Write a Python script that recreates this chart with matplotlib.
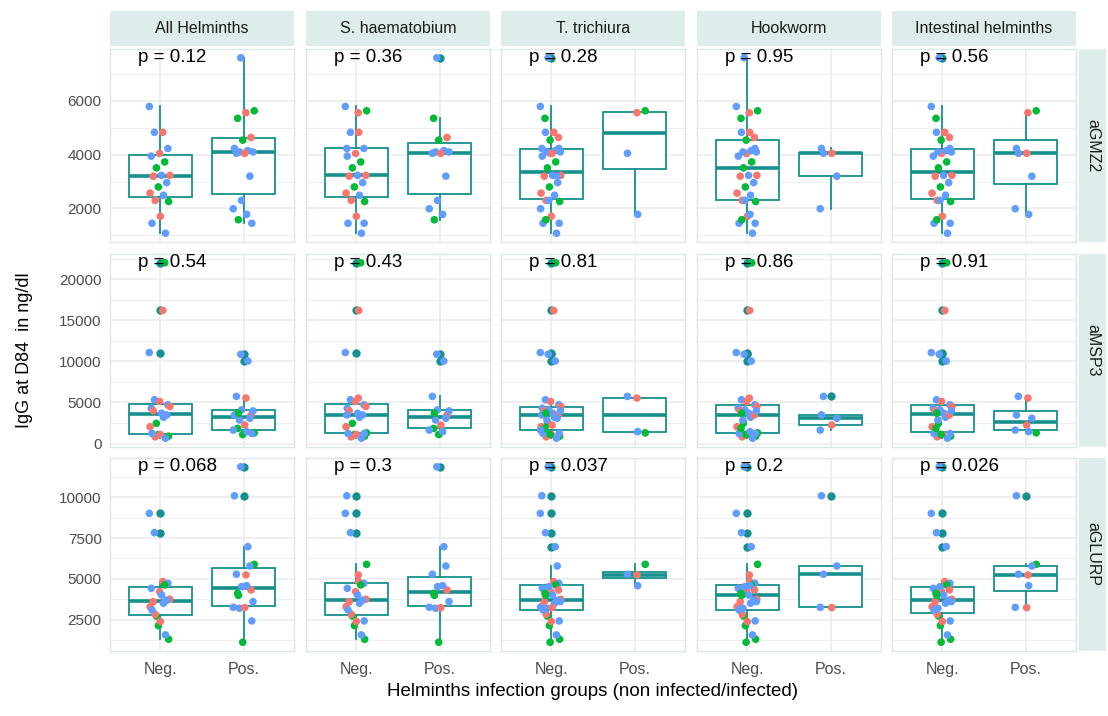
import numpy as np
import matplotlib.pyplot as plt
from matplotlib.patches import Rectangle

plt.rcParams['font.family'] = ['Liberation Sans', 'DejaVu Sans']

#----------------------Dados-----------------------#
colunas = ["All Helminths", "S. haematobium", "T. trichiura", "Hookworm", "Intestinal helminths"]
linhas = ["aGMZ2", "aMSP3", "aGLURP"]
grupos = ["Neg.", "Pos."]

#p-valores de cada painel (linha x coluna)
p_gmz2 = ["0.12", "0.36", "0.28", "0.95", "0.56"]
p_msp3 = ["0.54", "0.43", "0.81", "0.86", "0.91"]
p_glurp = ["0.068", "0.3", "0.037", "0.2", "0.026"]

#cor de cada individuo (r = vermelho, g = verde, b = azul)
cor_ind = "brbbrbggrbrbgrbrgrbb" + "bgrgrgbbbbrbbbbbgb"

#IgG de cada individuo para cada antigeno
igg_gmz2 = [5790, 4830, 4830, 4230, 4045, 3945, 3730, 3510, 3230, 3230,
            3200, 2960, 2800, 2570, 2490, 2300, 2260, 1710, 1450, 1080,
            7600, 5630, 5560, 5350, 4640, 4540, 4230, 4150, 4100, 4100,
            4050, 4050, 3200, 2300, 1990, 1780, 1580, 1450]
igg_msp3 = [11070, 16200, 5330, 4715, 5125, 4300, 22000, 2460, 4510, 3690,
            4000, 3485, 1100, 2050, 3200, 820, 900, 1100, 1230, 650,
            10865, 1300, 5535, 1845, 3485, 1100, 3485, 10045, 2870, 3975,
            2255, 5740, 3075, 4100, 1640, 1450, 3700, 1230]
igg_glurp = [9004, 4836, 7825, 4735, 4226, 4430, 4633, 2740, 3760, 4023,
             3616, 3700, 2152, 3300, 3515, 2843, 1319, 2400, 3108, 1583,
             11850, 5893, 5243, 4125, 4330, 1137, 10080, 6970, 3210, 3616,
             3250, 5290, 5790, 4530, 3270, 4592, 4000, 2437]

#individuos infectados por especie
pos_sh = [20, 23, 24, 25, 27, 28, 29, 30, 31, 32, 33, 34, 35, 36]
pos_tt = [21, 22, 31, 35]
pos_hw = [26, 30, 31, 32, 34]
pos_outros = [37]

#ticks do eixo y de cada linha
ticks_gmz2 = [2000, 4000, 6000]
ticks_msp3 = [0, 5000, 10000, 15000, 20000]
ticks_glurp = [2500, 5000, 7500, 10000]

#-------------------Preparação---------------------#
n = len(cor_ind)
paleta = {"r": "#F8766D", "g": "#00BA38", "b": "#619CFF"}
cores = np.array([paleta[c] for c in cor_ind])
TEAL = "#16908C"

def mascara(lista):
    m = np.zeros(n, dtype=bool)
    m[lista] = True
    return m

m_sh, m_tt, m_hw, m_out = mascara(pos_sh), mascara(pos_tt), mascara(pos_hw), mascara(pos_outros)
mascaras = [m_sh | m_tt | m_hw | m_out, m_sh, m_tt, m_hw, m_tt | m_hw]
valores = [np.array(igg_gmz2), np.array(igg_msp3), np.array(igg_glurp)]
p_linhas = [p_gmz2, p_msp3, p_glurp]
ticks_linhas = [ticks_gmz2, ticks_msp3, ticks_glurp]

#jitter horizontal fixo (deslocamento visual apenas)
desloc = 0.13 * (((np.arange(n) * 0.618034) % 1) * 2 - 1)

W, H = 1108, 716
fig = plt.figure(figsize=(W / 100, H / 100), dpi=100)

col_x = [110, 306, 501, 697, 892]
lin_y = [49, 254, 458]
larg, alt = 184, 193

def fx(px):
    return px / W

def fy(py):
    return 1 - py / H

#--------------------Painéis-----------------------#
for i in range(3):
    v = valores[i]
    pad = 0.05 * (v.max() - v.min())
    ylim = (v.min() - pad, v.max() + pad)
    maj = np.array(ticks_linhas[i])
    passo = maj[1] - maj[0]
    minor = np.concatenate([maj - passo / 2, [maj[-1] + passo / 2]])
    minor = minor[(minor > ylim[0]) & (minor < ylim[1])]
    for j in range(5):
        ax = fig.add_axes([fx(col_x[j]), fy(lin_y[i] + alt), fx(larg), alt / H])
        m = mascaras[j]
        dados = [v[~m], v[m]]
        ax.boxplot(dados, positions=[1, 2], widths=0.75, showcaps=False, patch_artist=True,
                   boxprops=dict(facecolor="white", edgecolor=TEAL, linewidth=1.3),
                   whiskerprops=dict(color=TEAL, linewidth=1.3),
                   medianprops=dict(color=TEAL, linewidth=2.6),
                   flierprops=dict(marker="o", markerfacecolor=TEAL, markeredgecolor="none",
                                   markersize=6), zorder=2)
        for g, mk in enumerate([~m, m]):
            ax.scatter(g + 1 + desloc[mk], v[mk], s=30, c=cores[mk], edgecolors="none", zorder=3)
        ax.set_xlim(0.4, 2.6)
        ax.set_ylim(*ylim)
        ax.set_yticks(maj)
        ax.set_yticks(minor, minor=True)
        ax.set_xticks([1, 2])
        ax.grid(which="major", color="#EBEBEB", linewidth=1.1, zorder=0)
        ax.grid(which="minor", axis="y", color="#EBEBEB", linewidth=0.6, zorder=0)
        ax.set_axisbelow(True)
        for s in ax.spines.values():
            s.set_color("#DCE7E7")
            s.set_linewidth(1.0)
        ax.tick_params(which="both", length=0, labelsize=11, labelcolor="#4D4D4D")
        ax.tick_params(axis="y", pad=6)
        ax.tick_params(axis="x", pad=8, labelsize=11.5)
        if j == 0:
            ax.set_yticklabels([str(t) for t in maj])
        else:
            ax.set_yticklabels([])
        if i == 2:
            ax.set_xticklabels(grupos)
        else:
            ax.set_xticklabels([])
        ax.text(0.74, v.max(), "p = " + p_linhas[i][j], ha="left", va="center",
                fontsize=13.5, color="black", zorder=4)

#--------------------Faixas------------------------#
for j in range(5):
    fig.add_artist(Rectangle((fx(col_x[j]), fy(46)), fx(larg), 35 / H, transform=fig.transFigure,
                             facecolor="#DFECEC", edgecolor="none"))
    fig.text(fx(col_x[j] + larg / 2), fy(28.5), colunas[j], ha="center", va="center",
             fontsize=11.5, color="#1A1A1A")
for i in range(3):
    fig.add_artist(Rectangle((fx(1079), fy(lin_y[i] + alt)), fx(27), alt / H, transform=fig.transFigure,
                             facecolor="#DFECEC", edgecolor="none"))
    fig.text(fx(1092.5), fy(lin_y[i] + alt / 2), linhas[i], ha="center", va="center",
             rotation=-90, fontsize=11.5, color="#1A1A1A")

fig.text(fx(593), fy(692), "Helminths infection groups (non infected/infected)",
         ha="center", va="center", fontsize=13.5)
fig.text(fx(25), fy(350), "IgG at D84  in ng/dl", ha="center", va="center",
         rotation=90, fontsize=13)

fig.savefig("out.png", dpi=100)
